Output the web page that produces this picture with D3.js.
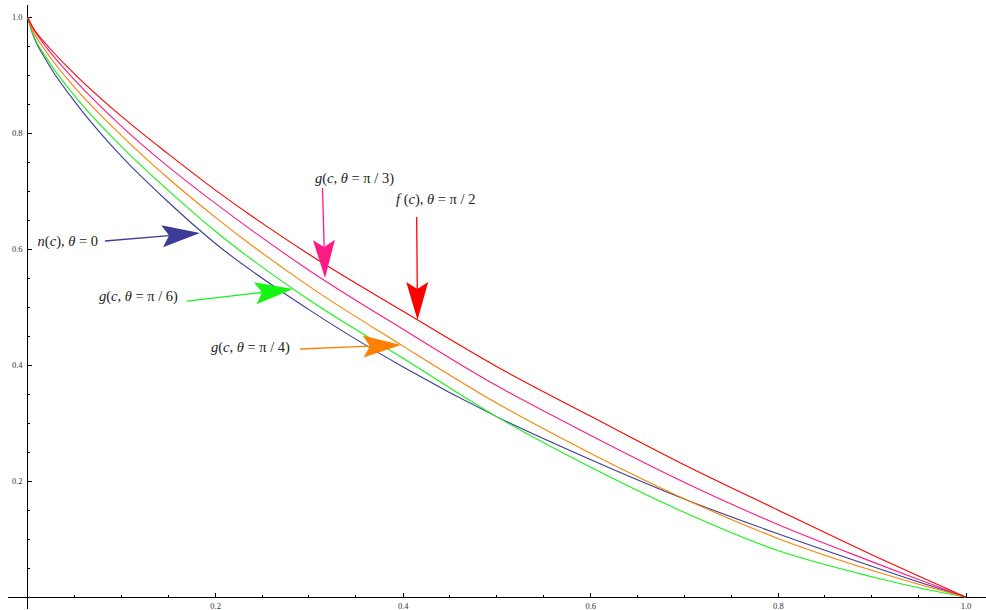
<!DOCTYPE html>
<html>
<head>
<meta charset="utf-8">
<script src="https://cdn.jsdelivr.net/npm/d3@7"></script>
<style>
  html, body { margin: 0; padding: 0; background: #fff; }
  svg { display: block; }
</style>
</head>
<body>
<svg id="chart" width="986" height="610"></svg>
<script>
// c values sampled along the horizontal axis
const cValues = [0, 0.005, 0.02, 0.05, 0.1, 0.15, 0.2, 0.3, 0.4, 0.5, 0.6, 0.7, 0.8, 0.9, 0.95, 1];

// n(c), theta = 0
const nTheta0 = [1, 0.973, 0.925, 0.855, 0.760, 0.681, 0.610, 0.4955, 0.397, 0.311, 0.237, 0.169, 0.109, 0.053, 0.026, 0];
// g(c, theta = pi/6)
const gPi6 = [1, 0.974, 0.930, 0.8645, 0.777, 0.701, 0.631, 0.5125, 0.412, 0.311, 0.224, 0.146, 0.080, 0.035, 0.016, 0];
// g(c, theta = pi/4)
const gPi4 = [1, 0.979, 0.940, 0.879, 0.796, 0.722, 0.655, 0.536, 0.433, 0.3345, 0.248, 0.1695, 0.101, 0.046, 0.022, 0];
// g(c, theta = pi/3)
const gPi3 = [1, 0.983, 0.948, 0.892, 0.812, 0.742, 0.679, 0.5635, 0.462, 0.3645, 0.279, 0.198, 0.125, 0.061, 0.030, 0];
// f(c), theta = pi/2
const fPi2 = [1, 0.984, 0.953, 0.902, 0.829, 0.764, 0.702, 0.591, 0.493, 0.3975, 0.312, 0.228, 0.150, 0.073, 0.036, 0];

const xTickValues = [0.2, 0.4, 0.6, 0.8, 1.0];
const yTickValues = [0.2, 0.4, 0.6, 0.8, 1.0];
const minorTickValues = d3.range(1, 20).map(i => i * 0.05);

const series = [
  { name: "n", values: nTheta0, color: "#3c3c98" },
  { name: "g6", values: gPi6, color: "#14f514" },
  { name: "g4", values: gPi4, color: "#ff8000" },
  { name: "g3", values: gPi3, color: "#ff1a86" },
  { name: "f", values: fPi2, color: "#ff0000" }
];

// Callouts: label parts (italic flag), label anchor, arrow tail and tip, all in data units
const callouts = [
  { series: "n", parts: [["n", 1], ["(", 0], ["c", 1], ["), ", 0], ["θ", 1], [" = 0", 0]],
    anchor: "end", text: [0.0752, 0.6052], tail: [0.0826, 0.6138], tip: [0.1839, 0.6276] },
  { series: "g6", parts: [["g", 1], ["(", 0], ["c", 1], [", ", 0], ["θ", 1], [" = π / 6)", 0]],
    anchor: "end", text: [0.1604, 0.5103], tail: [0.1700, 0.5103], tip: [0.2830, 0.5310] },
  { series: "g4", parts: [["g", 1], ["(", 0], ["c", 1], [", ", 0], ["θ", 1], [" = π / 4)", 0]],
    anchor: "end", text: [0.2798, 0.4224], tail: [0.2905, 0.4276], tip: [0.3982, 0.4345] },
  { series: "g3", parts: [["g", 1], ["(", 0], ["c", 1], [", ", 0], ["θ", 1], [" = π / 3)", 0]],
    anchor: "start", text: [0.3065, 0.7138], tail: [0.3145, 0.7052], tip: [0.3172, 0.5500] },
  { series: "f", parts: [["f", 1], [" (", 0], ["c", 1], ["), ", 0], ["θ", 1], [" = π / 2", 0]],
    anchor: "start", text: [0.3929, 0.6776], tail: [0.4149, 0.6552], tip: [0.4158, 0.4776] }
];

const svg = d3.select("#chart");
svg.append("rect").attr("width", 986).attr("height", 610).attr("fill", "#fff");

const x = d3.scaleLinear().domain([0, 1]).range([27.5, 965.5]);
const y = d3.scaleLinear().domain([0, 1]).range([597, 17]);

const serif = "'Liberation Serif', 'DejaVu Serif', serif";

// Axes crossing at the origin
const axes = svg.append("g").attr("stroke", "#000").attr("stroke-width", 1).attr("shape-rendering", "crispEdges");
axes.append("line").attr("x1", 8).attr("x2", 986).attr("y1", y(0)).attr("y2", y(0));
axes.append("line").attr("x1", x(0)).attr("x2", x(0)).attr("y1", 5).attr("y2", 609);

// x axis ticks pointing up into the plot
const xAxis = d3.axisTop(x).tickValues(xTickValues).tickSize(4).tickFormat(d3.format(".1f"));
const gx = svg.append("g").attr("transform", `translate(0,${y(0)})`).call(xAxis);
gx.select(".domain").remove();
gx.selectAll(".tick text").attr("y", 12).attr("dy", 0).attr("fill", "#333")
  .attr("font-family", serif).attr("font-size", 8.5);
gx.selectAll(".tick line").attr("shape-rendering", "crispEdges");
svg.append("g").attr("stroke", "#000").attr("shape-rendering", "crispEdges")
  .selectAll("line").data(minorTickValues.filter(v => !xTickValues.some(t => Math.abs(t - v) < 1e-9)))
  .join("line").attr("x1", d => x(d)).attr("x2", d => x(d)).attr("y1", y(0)).attr("y2", y(0) - 2);

// y axis ticks pointing right into the plot
const yAxis = d3.axisRight(y).tickValues(yTickValues).tickSize(4).tickFormat(d3.format(".1f"));
const gy = svg.append("g").attr("transform", `translate(${x(0)},0)`).call(yAxis);
gy.select(".domain").remove();
gy.selectAll(".tick text").attr("x", -5).attr("text-anchor", "end").attr("fill", "#333")
  .attr("font-family", serif).attr("font-size", 8.5);
gy.selectAll(".tick line").attr("shape-rendering", "crispEdges");
svg.append("g").attr("stroke", "#000").attr("shape-rendering", "crispEdges")
  .selectAll("line").data(minorTickValues.filter(v => !yTickValues.some(t => Math.abs(t - v) < 1e-9)))
  .join("line").attr("y1", d => y(d)).attr("y2", d => y(d)).attr("x1", x(0)).attr("x2", x(0) + 2);

// Curves
const line = d3.line().x(d => x(d[0])).y(d => y(d[1])).curve(d3.curveMonotoneX);
svg.append("g").selectAll("path").data(series).join("path")
  .attr("d", s => line(cValues.map((c, i) => [c, s.values[i]])))
  .attr("fill", "none").attr("stroke", s => s.color).attr("stroke-width", 1.1);

// Callout arrows and labels
const colorOf = name => series.find(s => s.name === name).color;
const headLen = 38, headHalf = 11, notch = 7;
const ann = svg.append("g");
callouts.forEach(cl => {
  const col = colorOf(cl.series);
  const tx = x(cl.tail[0]), ty = y(cl.tail[1]);
  const px = x(cl.tip[0]), py = y(cl.tip[1]);
  const ang = Math.atan2(py - ty, px - tx);
  const shaft = headLen - notch;
  ann.append("line")
    .attr("x1", tx).attr("y1", ty)
    .attr("x2", px - shaft * Math.cos(ang)).attr("y2", py - shaft * Math.sin(ang))
    .attr("stroke", col).attr("stroke-width", 1.3);
  ann.append("path")
    .attr("d", `M0,0L${-headLen},${-headHalf}L${-headLen + notch},0L${-headLen},${headHalf}Z`)
    .attr("transform", `translate(${px},${py}) rotate(${ang * 180 / Math.PI})`)
    .attr("fill", col);
  const t = ann.append("text")
    .attr("x", x(cl.text[0])).attr("y", y(cl.text[1]))
    .attr("text-anchor", cl.anchor)
    .attr("font-family", serif).attr("font-size", 14.5).attr("fill", "#222");
  cl.parts.forEach(([s, it]) => {
    t.append("tspan").attr("font-style", it ? "italic" : "normal").text(s);
  });
});
</script>
</body>
</html>
